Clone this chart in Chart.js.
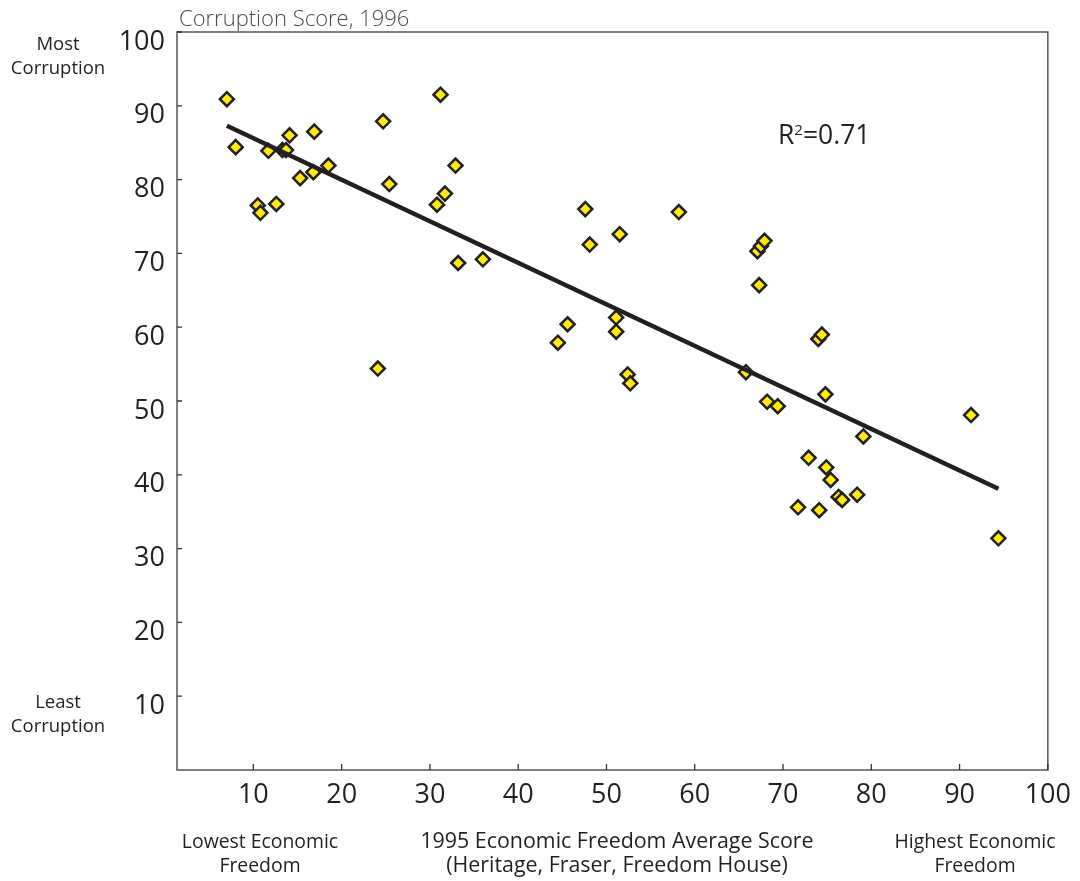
<!DOCTYPE html>
<html>
<head>
<meta charset="utf-8">
<script src="https://cdn.jsdelivr.net/npm/chart.js@4/dist/chart.umd.min.js"></script>
<style>
  body { margin: 0; background: #fff; }
  #wrap { width: 1080px; height: 881px; position: relative; }
</style>
</head>
<body>
<div id="wrap"><canvas id="corruption-chart"></canvas></div>
<script>
// 1995 economic freedom score (x) vs 1996 corruption score (y)
const freedom = [7.0, 8.0, 10.5, 10.8, 11.7, 12.6, 13.3, 13.7, 14.1, 15.3, 16.8, 16.9, 18.5,
  24.1, 24.7, 25.4, 31.2, 30.8, 31.7, 32.9, 33.2, 36.0, 44.5, 45.6, 47.6, 48.1,
  51.1, 51.1, 51.5, 58.2, 52.4, 52.7, 67.1, 67.5, 67.9, 67.3, 65.8, 74.0, 74.4, 74.8,
  68.2, 69.4, 91.3, 79.1, 72.9, 74.9, 75.4, 76.3, 76.7, 78.4, 71.7, 74.1, 94.4];
const corruption = [90.9, 84.4, 76.5, 75.5, 83.9, 76.7, 84.0, 84.0, 86.0, 80.2, 81.0, 86.5, 81.9,
  54.4, 87.9, 79.4, 91.5, 76.6, 78.1, 81.9, 68.7, 69.2, 57.9, 60.4, 76.0, 71.2,
  61.3, 59.4, 72.6, 75.6, 53.6, 52.4, 70.3, 71.0, 71.7, 65.7, 53.9, 58.4, 59.0, 50.9,
  49.9, 49.3, 48.1, 45.2, 42.3, 41.0, 39.3, 37.0, 36.6, 37.3, 35.6, 35.2, 31.4];

// fitted trend line end points
const trendX = [7.0, 94.4];
const trendY = [87.3, 38.1];

const xTicks = [10, 20, 30, 40, 50, 60, 70, 80, 90, 100];
const yTicks = [10, 20, 30, 40, 50, 60, 70, 80, 90, 100];
const rSquared = '0.71';

const ink = '#231f20';
const fontFam = '"Open Sans", "Noto Sans", sans-serif';

const points = freedom.map((v, i) => ({ x: v, y: corruption[i] }));
const trend = trendX.map((v, i) => ({ x: v, y: trendY[i] }));

const framePlugin = {
  id: 'frame',
  beforeDatasetsDraw(chart) {
    const { ctx, chartArea: a, scales: { x, y } } = chart;
    ctx.save();
    ctx.strokeStyle = '#555';
    ctx.lineWidth = 1.5;
    ctx.strokeRect(a.left, a.top, a.right - a.left, a.bottom - a.top);
    ctx.lineWidth = 1.3;
    ctx.strokeStyle = '#333';
    ctx.beginPath();
    xTicks.forEach(v => {
      const px = x.getPixelForValue(v);
      ctx.moveTo(px, a.bottom);
      ctx.lineTo(px, a.bottom - 6);
    });
    yTicks.forEach(v => {
      const py = y.getPixelForValue(v);
      ctx.moveTo(a.left, py);
      ctx.lineTo(a.left + 5, py);
    });
    ctx.stroke();
    ctx.restore();
  }
};

const textPlugin = {
  id: 'labels',
  afterDraw(chart) {
    const { ctx, chartArea: a } = chart;
    ctx.save();
    ctx.fillStyle = '#4a4a4a';
    ctx.font = '300 22px ' + fontFam;
    ctx.textAlign = 'left';
    ctx.textBaseline = 'alphabetic';
    ctx.fillText('Corruption Score, 1996', a.left + 2, 26);

    ctx.fillStyle = ink;
    ctx.font = '18.5px ' + fontFam;
    ctx.textAlign = 'center';
    ctx.textBaseline = 'middle';
    ctx.fillText('Most', 58, 45);
    ctx.fillText('Corruption', 58, 69);
    ctx.fillText('Least', 58, 703);
    ctx.fillText('Corruption', 58, 727);

    ctx.font = '19.4px ' + fontFam;
    ctx.fillText('Lowest Economic', 260, 842);
    ctx.fillText('Freedom', 260, 866);
    ctx.fillText('Highest Economic', 975, 842);
    ctx.fillText('Freedom', 975, 866);
    ctx.font = '21.4px ' + fontFam;
    ctx.fillText('1995 Economic Freedom Average Score', 617, 842);
    ctx.fillText('(Heritage, Fraser, Freedom House)', 617, 866);

    // R squared label
    ctx.textAlign = 'left';
    ctx.textBaseline = 'alphabetic';
    let tx = 778;
    const by = 144;
    ctx.font = '26.5px ' + fontFam;
    ctx.fillText('R', tx, by);
    tx += ctx.measureText('R').width;
    ctx.font = '15px ' + fontFam;
    ctx.fillText('2', tx, by - 9);
    tx += ctx.measureText('2').width;
    ctx.font = '26.5px ' + fontFam;
    ctx.fillText('=' + rSquared, tx, by);
    ctx.restore();
  }
};

const ctx = document.getElementById('corruption-chart').getContext('2d');
const chart = new Chart(ctx, {
  type: 'scatter',
  data: {
    datasets: [{
      label: 'Trend',
      data: trend,
      showLine: true,
      borderColor: ink,
      borderWidth: 4.5,
      pointRadius: 0,
      order: 0
    }, {
      label: 'Countries',
      data: points,
      pointStyle: 'rectRot',
      pointRadius: 7,
      pointBackgroundColor: '#ffec00',
      pointBorderColor: ink,
      pointBorderWidth: 2.5,
      order: 1
    }]
  },
  options: {
    responsive: true,
    maintainAspectRatio: false,
    animation: false,
    layout: { padding: { left: 0, right: 30, top: 32, bottom: 0 } },
    plugins: {
      legend: { display: false },
      tooltip: { enabled: false }
    },
    scales: {
      x: {
        type: 'linear',
        min: 1.35,
        max: 100,
        grid: { display: false, drawTicks: false },
        border: { display: false },
        afterBuildTicks: s => { s.ticks = xTicks.map(v => ({ value: v })); },
        afterFit: s => { s.height = 111; },
        ticks: {
          padding: 9,
          color: ink,
          font: { family: fontFam, size: 27 },
          maxRotation: 0,
          autoSkip: false
        }
      },
      y: {
        type: 'linear',
        min: 0,
        max: 100,
        grid: { display: false, drawTicks: false },
        border: { display: false },
        afterBuildTicks: s => { s.ticks = yTicks.map(v => ({ value: v })); },
        afterFit: s => { s.width = 177; },
        ticks: {
          padding: 12,
          labelOffset: 10,
          color: ink,
          font: { family: fontFam, size: 27 },
          autoSkip: false
        }
      }
    }
  },
  plugins: [framePlugin, textPlugin]
});
</script>
</body>
</html>
